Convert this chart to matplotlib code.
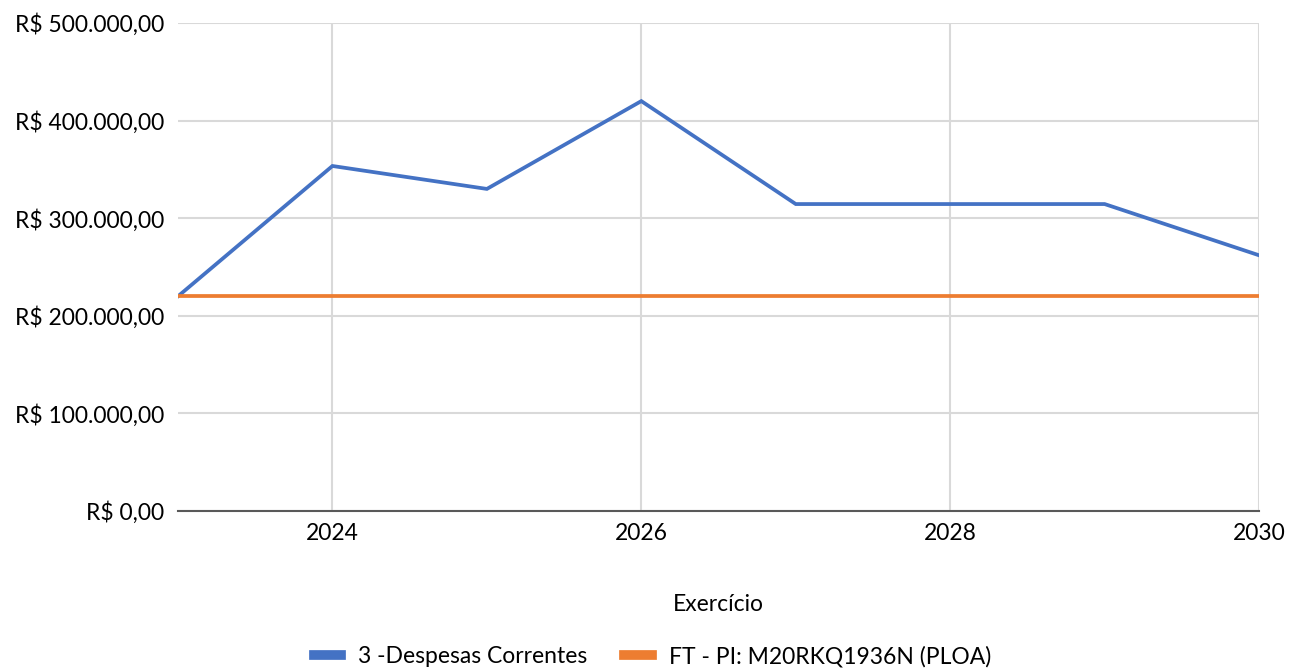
import matplotlib
matplotlib.use("Agg")
import matplotlib.pyplot as plt
from matplotlib.ticker import FuncFormatter

plt.rcParams["font.family"] = ["Lato", "DejaVu Sans"]

YEARS = [2023, 2024, 2025, 2026, 2027, 2028, 2029, 2030]
DESPESAS = [220000, 353500, 330000, 420000, 314500, 314500, 314500, 262000]
PLOA = [220000, 220000, 220000, 220000, 220000, 220000, 220000, 220000]
X_TICKS = [2024, 2026, 2028, 2030]
Y_TICKS = [0, 100000, 200000, 300000, 400000, 500000]


def brl(v, _pos=None):
    s = f"{v:,.2f}"
    s = s.replace(",", "X").replace(".", ",").replace("X", ".")
    return f"R$ {s}"


fig = plt.figure(figsize=(13.05, 6.69), dpi=100)
ax = fig.add_axes([0.1364, 0.2362, 0.8284, 0.7294])

ax.plot(YEARS, DESPESAS, color="#4472C4", linewidth=2.7, label="3 -Despesas Correntes",
        solid_joinstyle="miter", zorder=3)
ax.plot(YEARS, PLOA, color="#ED7D31", linewidth=2.7, label="FT - PI: M20RKQ1936N (PLOA)",
        zorder=3)

ax.set_xlim(2023, 2030)
ax.set_ylim(0, 500000)
ax.set_xticks(X_TICKS)
ax.set_yticks(Y_TICKS)
ax.yaxis.set_major_formatter(FuncFormatter(brl))
ax.grid(True, color="#d9d9d9", linewidth=1.5)
ax.set_axisbelow(True)
for side in ["top", "left", "right"]:
    ax.spines[side].set_visible(False)
ax.spines["bottom"].set_color("#595959")
ax.spines["bottom"].set_linewidth(1.5)
ax.tick_params(axis="both", length=0, labelsize=16.5, colors="#000000")
ax.tick_params(axis="x", pad=9)
ax.tick_params(axis="y", pad=10)

ax.set_xlabel("Exercício", fontsize=16.5, labelpad=36)
fig.legend(loc="lower center", bbox_to_anchor=(0.5, -0.028), ncol=2, frameon=False,
           fontsize=16.5, handlelength=1.2, handleheight=0.6, handletextpad=0.75,
           columnspacing=1.6)
leg = fig.legends[0]
for line in leg.get_lines():
    line.set_linewidth(7)

fig.savefig("out.png", dpi=100)
